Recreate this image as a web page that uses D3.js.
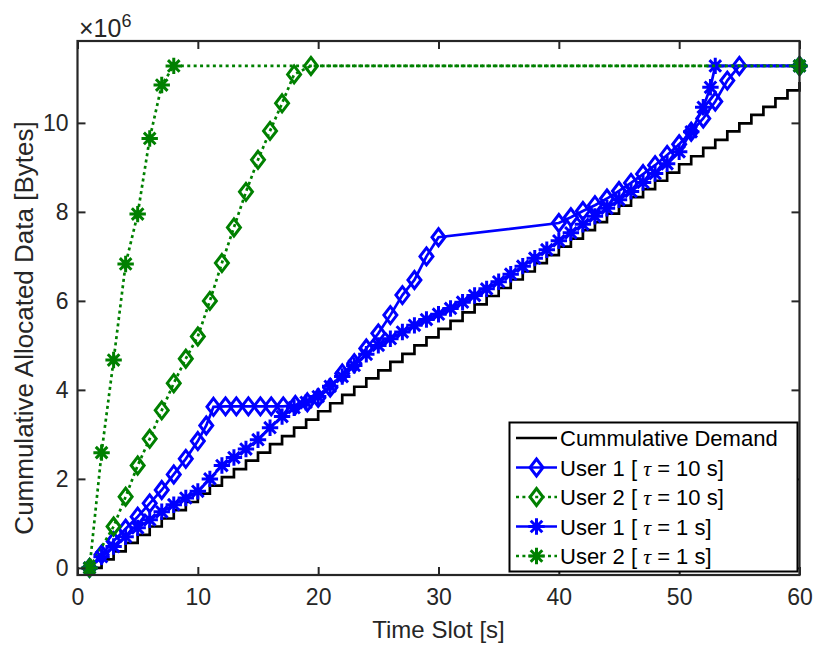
<!DOCTYPE html>
<html>
<head>
<meta charset="utf-8">
<script src="https://cdn.jsdelivr.net/npm/d3@7/dist/d3.min.js"></script>
<style>
  body { margin: 0; background: #fff; }
  text { font-family: "Liberation Sans", Arial, Helvetica, sans-serif; fill: #262626; }
</style>
</head>
<body>
<svg id="chart" width="815" height="651"></svg>
<script>
// Cumulative demand per time slot (slots 1..60), in millions of bytes
const demand = [0.00,0.19,0.37,0.56,0.74,0.93,1.11,1.30,1.48,1.67,
                1.85,2.04,2.22,2.41,2.59,2.78,2.96,3.15,3.33,3.52,
                3.70,3.89,4.07,4.26,4.44,4.63,4.81,5.00,5.18,5.37,
                5.55,5.74,5.92,6.11,6.29,6.48,6.66,6.85,7.03,7.22,
                7.40,7.59,7.77,7.96,8.14,8.33,8.51,8.70,8.88,9.07,
                9.25,9.44,9.62,9.81,9.99,10.18,10.36,10.55,10.73,10.92];

// User 1, tau = 10 s
const u1Tau10Time = [1,2,3,4,5,6,7,8,9,10,10.7,11.3,12.3,13.2,14.2,15.2,16.1,17.1,18.1,19.1,
                     20,21,22,23,24,25,26,27,28,29,30,
                     40,41,42,43,44,45,46,47,48,49,50,51,52,53,54,55,60];
const u1Tau10 = [0,0.30,0.60,0.88,1.15,1.45,1.75,2.10,2.45,2.85,3.20,3.62,3.63,3.63,3.63,3.63,3.63,3.63,3.66,3.72,
                 3.82,4.05,4.37,4.60,4.93,5.27,5.68,6.13,6.47,7.00,7.43,
                 7.75,7.88,8.02,8.15,8.30,8.47,8.65,8.85,9.05,9.28,9.52,9.80,10.10,10.48,10.95,11.28,11.28];

// User 2, tau = 10 s
const u2Tau10Time = [1,3,4,5,6,7,8,9,10,11,12,13,14,15,16,17,18,19.4,60];
const u2Tau10 = [0,0.93,1.60,2.30,2.90,3.54,4.15,4.70,5.20,6.00,6.85,7.65,8.45,9.17,9.82,10.44,11.09,11.28,11.28];

// User 1, tau = 1 s
const u1Tau1Time = [1,2,3,4,5,6,7,8,9,10,11,12,13,14,15,16,17,18,19,20,
                    21,22,23,24,25,26,27,28,29,30,31,32,33,34,35,36,37,38,39,40,
                    41,42,43,44,45,46,47,48,49,50,51,52,52.6,53,60];
const u1Tau1 = [0,0.25,0.48,0.70,0.90,1.08,1.26,1.42,1.57,1.72,2.00,2.30,2.48,2.67,2.88,3.15,3.40,3.60,3.72,3.85,
                4.08,4.30,4.55,4.80,5.00,5.15,5.30,5.45,5.58,5.70,5.83,5.97,6.12,6.27,6.43,6.60,6.78,6.96,7.15,7.35,
                7.53,7.72,7.90,8.08,8.27,8.46,8.66,8.86,9.08,9.35,9.80,10.35,10.80,11.28,11.28];

// User 2, tau = 1 s
const u2Tau1Time = [1,2,3,4,5,6,7,8,60];
const u2Tau1 = [0,2.59,4.67,6.83,7.95,9.65,10.85,11.28,11.28];

const xTicks = [0,10,20,30,40,50,60];
const yTicks = [0,2,4,6,8,10];
const legendLabels = ["Cummulative Demand", "User 1 [ τ = 10 s]", "User 2 [ τ = 10 s]", "User 1 [ τ = 1 s]", "User 2 [ τ = 1 s]"];

const SCALE = 1e6;
const BLUE = "#0000ff", GREEN = "#008000", BLACK = "#000000", AXIS = "#262626";

const svg = d3.select("#chart");
const plot = { left: 77.5, right: 799.5, top: 41, bottom: 575 };

const x = d3.scaleLinear().domain([0, 60]).range([plot.left, plot.right]);
const y = d3.scaleLinear().domain([-0.16 * SCALE, 11.84 * SCALE]).range([plot.bottom, plot.top]);

const zip = (ts, vs) => ts.map((t, i) => ({ t, v: vs[i] * SCALE }));

const DOT = "3,3.4";
const series = [
  { name: legendLabels[0], data: demand.map((v, i) => ({ t: i + 1, v: v * SCALE })), color: BLACK, dash: null, marker: null, stairs: true },
  { name: legendLabels[1], data: zip(u1Tau10Time, u1Tau10), color: BLUE, dash: null, marker: "diamond" },
  { name: legendLabels[2], data: zip(u2Tau10Time, u2Tau10), color: GREEN, dash: DOT, marker: "diamond" },
  { name: legendLabels[3], data: zip(u1Tau1Time, u1Tau1), color: BLUE, dash: null, marker: "star" },
  { name: legendLabels[4], data: zip(u2Tau1Time, u2Tau1), color: GREEN, dash: DOT, marker: "star" }
];

const LW = 2.7;   // line width
const MW = 3;     // marker edge width

function drawMarker(g, type, cx, cy, color) {
  if (type === "diamond") {
    const w = 6.5, h = 8.5;
    g.append("path")
      .attr("d", `M${cx},${cy - h}L${cx + w},${cy}L${cx},${cy + h}L${cx - w},${cy}Z`)
      .attr("fill", "none").attr("stroke", color).attr("stroke-width", MW)
      .attr("stroke-linejoin", "miter");
  } else if (type === "star") {
    const r = 8.2;
    const d = [0, 45, 90, 135].map(a => {
      const rad = a * Math.PI / 180;
      const dx = r * Math.cos(rad), dy = r * Math.sin(rad);
      return `M${cx - dx},${cy - dy}L${cx + dx},${cy + dy}`;
    }).join("");
    g.append("path").attr("d", d).attr("fill", "none")
      .attr("stroke", color).attr("stroke-width", MW);
  }
}

// clip to the axes area (slightly padded so edge markers stay whole)
svg.append("defs").append("clipPath").attr("id", "plotClip")
  .append("rect").attr("x", plot.left - 12).attr("y", plot.top)
  .attr("width", plot.right - plot.left + 24).attr("height", plot.bottom - plot.top + 12);

const dataLayer = svg.append("g").attr("clip-path", "url(#plotClip)");

series.forEach(s => {
  const line = d3.line().x(d => x(d.t)).y(d => y(d.v));
  if (s.stairs) line.curve(d3.curveStepAfter);
  dataLayer.append("path")
    .datum(s.data)
    .attr("d", line)
    .attr("fill", "none")
    .attr("stroke", s.color)
    .attr("stroke-width", LW)
    .attr("stroke-linejoin", "miter")
    .attr("stroke-dasharray", s.dash);
  if (s.marker) {
    const mg = dataLayer.append("g");
    s.data.forEach(d => drawMarker(mg, s.marker, x(d.t), y(d.v), s.color));
  }
});

// Axes with inward ticks on all four sides
const tickLen = 8;
const fmtY = d => d3.format("d")(d / SCALE);
const yTickVals = yTicks.map(v => v * SCALE);

const axisStyle = g => {
  g.selectAll(".domain").remove();
  g.selectAll(".tick line").attr("stroke", AXIS).attr("stroke-width", 2);
  g.selectAll(".tick text").attr("fill", AXIS).style("font-size", "23px");
};

svg.append("g").attr("transform", `translate(0,${plot.bottom})`)
  .call(d3.axisBottom(x).tickValues(xTicks).tickSizeInner(-tickLen).tickSizeOuter(0).tickPadding(14))
  .call(axisStyle);
svg.append("g").attr("transform", `translate(0,${plot.top})`)
  .call(d3.axisTop(x).tickValues(xTicks).tickSizeInner(-tickLen).tickSizeOuter(0).tickFormat(""))
  .call(axisStyle);
svg.append("g").attr("transform", `translate(${plot.left},0)`)
  .call(d3.axisLeft(y).tickValues(yTickVals).tickFormat(fmtY).tickSizeInner(-tickLen).tickSizeOuter(0).tickPadding(9))
  .call(axisStyle);
svg.append("g").attr("transform", `translate(${plot.right},0)`)
  .call(d3.axisRight(y).tickValues(yTickVals).tickSizeInner(-tickLen).tickSizeOuter(0).tickFormat(""))
  .call(axisStyle);

svg.append("rect")
  .attr("x", plot.left).attr("y", plot.top)
  .attr("width", plot.right - plot.left).attr("height", plot.bottom - plot.top)
  .attr("fill", "none").attr("stroke", AXIS).attr("stroke-width", 2.2);

// exponent label
const expo = svg.append("text").attr("x", 79).attr("y", 37).style("font-size", "25px");
expo.append("tspan").text("×10");
expo.append("tspan").attr("dy", -10).style("font-size", "18px").text("6");

// axis titles
svg.append("text")
  .attr("x", (plot.left + plot.right) / 2).attr("y", 638)
  .attr("text-anchor", "middle").style("font-size", "24px")
  .text("Time Slot [s]");

svg.append("text")
  .attr("transform", `translate(33,328) rotate(-90)`)
  .attr("text-anchor", "middle").style("font-size", "26px")
  .text("Cummulative Allocated Data [Bytes]");

// legend
const lg = { x: 509.5, y: 422.5, w: 288, h: 149 };
svg.append("rect").attr("x", lg.x).attr("y", lg.y).attr("width", lg.w).attr("height", lg.h)
  .attr("fill", "#fff").attr("stroke", BLACK).attr("stroke-width", 2);

const rowY = [438, 467.5, 497, 526.5, 556];
series.forEach((s, i) => {
  const cy = rowY[i];
  const g = svg.append("g");
  g.append("line").attr("x1", 516).attr("x2", 557).attr("y1", cy).attr("y2", cy)
    .attr("stroke", s.color).attr("stroke-width", LW).attr("stroke-dasharray", s.dash);
  if (s.marker) drawMarker(g, s.marker, 536.5, cy, s.color);
  const t = g.append("text").attr("x", 560).attr("y", cy + 8).style("font-size", "22px").style("fill", BLACK);
  const parts = s.name.split("τ");
  t.append("tspan").text(parts[0]);
  if (parts.length > 1) {
    t.append("tspan").style("font-family", "'Liberation Serif', 'DejaVu Serif', serif").style("font-style", "italic").text("τ");
    t.append("tspan").text(parts[1]);
  }
});
</script>
</body>
</html>
